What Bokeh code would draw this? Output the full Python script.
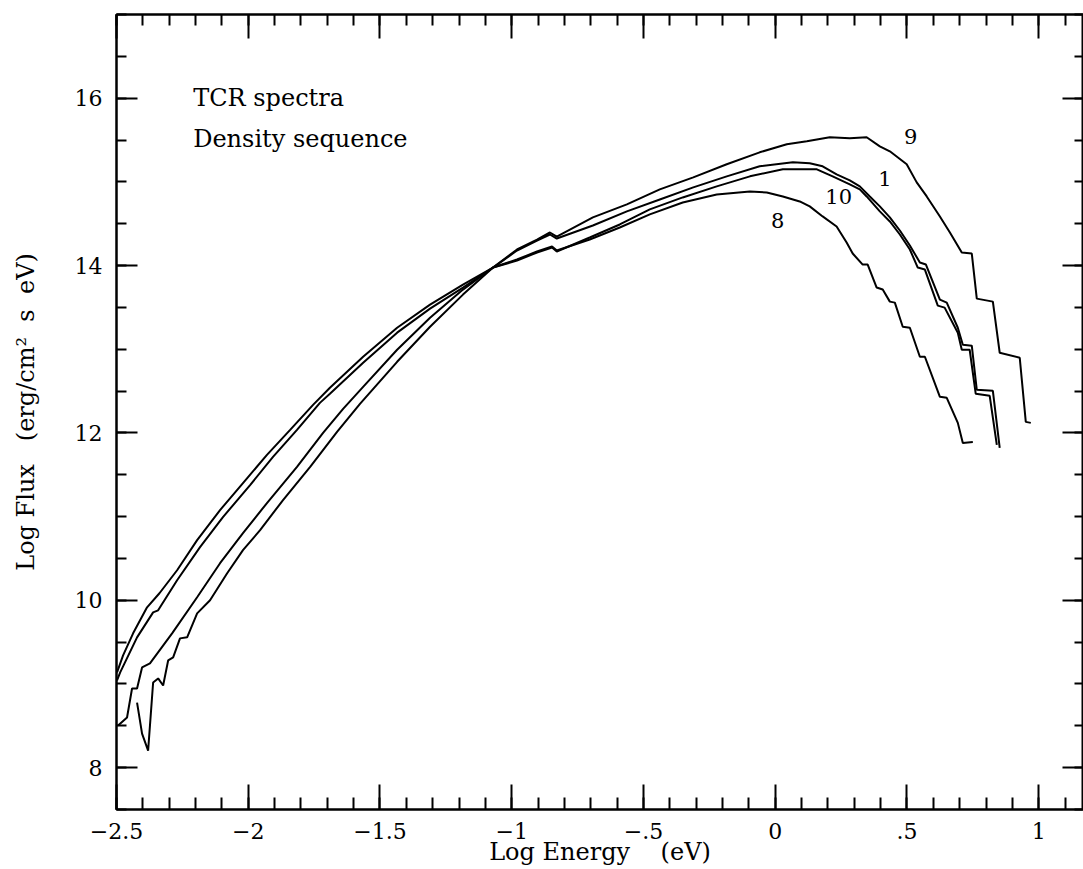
from bokeh.plotting import figure
from bokeh.models import LinearAxis, SingleIntervalTicker, Range1d
from bokeh.core.properties import value
from bokeh.embed import file_html
from bokeh.resources import INLINE

# ---- data (Log Energy [eV], Log Flux [erg/cm^2 s eV]) ----
x_c8 = [-2.498, -2.475, -2.437, -2.384, -2.337, -2.270, -2.194, -2.107, -2.020, -1.929,
        -1.841, -1.754, -1.690, -1.564, -1.435, -1.310, -1.185, -1.071, -0.980, -0.904,
        -0.847, -0.829, -0.704, -0.590, -0.476, -0.351, -0.222, -0.096, -0.032, 0.029,
        0.093, 0.131, 0.180, 0.233, 0.271, 0.294, 0.332, 0.351, 0.385, 0.408,
        0.435, 0.454, 0.484, 0.511, 0.549, 0.568, 0.625, 0.651, 0.693, 0.712, 0.750]
y_c8 = [9.138, 9.341, 9.605, 9.916, 10.084, 10.359, 10.719, 11.078, 11.401, 11.737,
        12.036, 12.335, 12.539, 12.910, 13.257, 13.533, 13.772, 13.976, 14.072, 14.168,
        14.228, 14.180, 14.311, 14.455, 14.611, 14.754, 14.850, 14.886, 14.874, 14.826,
        14.766, 14.707, 14.587, 14.467, 14.275, 14.144, 14.012, 14.012, 13.737, 13.713,
        13.569, 13.557, 13.269, 13.257, 12.910, 12.910, 12.431, 12.419, 12.120, 11.880, 11.892]

x_c10 = [-2.498, -2.486, -2.422, -2.361, -2.342, -2.270, -2.183, -2.096, -1.993, -1.906,
         -1.815, -1.728, -1.690, -1.564, -1.435, -1.310, -1.185, -1.071, -0.980, -0.904,
         -0.847, -0.829, -0.704, -0.590, -0.476, -0.351, -0.222, -0.096, 0.029, 0.158,
         0.218, 0.283, 0.321, 0.347, 0.397, 0.435, 0.473, 0.511, 0.541, 0.568,
         0.617, 0.643, 0.693, 0.708, 0.738, 0.761, 0.814, 0.841]
y_c10 = [9.042, 9.138, 9.557, 9.856, 9.880, 10.240, 10.635, 10.994, 11.377, 11.713,
         12.036, 12.359, 12.467, 12.838, 13.198, 13.485, 13.737, 13.976, 14.060, 14.156,
         14.216, 14.168, 14.335, 14.491, 14.671, 14.814, 14.946, 15.066, 15.150, 15.150,
         15.066, 14.970, 14.910, 14.826, 14.647, 14.527, 14.371, 14.192, 13.976, 13.952,
         13.521, 13.497, 13.198, 12.994, 12.994, 12.467, 12.443, 11.856]

x_c1 = [-2.494, -2.460, -2.441, -2.422, -2.403, -2.373, -2.289, -2.194, -2.107, -2.020,
        -1.929, -1.815, -1.716, -1.640, -1.564, -1.435, -1.310, -1.185, -1.071, -0.980,
        -0.904, -0.855, -0.829, -0.692, -0.563, -0.438, -0.311, -0.184, -0.059, 0.067,
        0.131, 0.180, 0.233, 0.283, 0.321, 0.359, 0.397, 0.435, 0.473, 0.511,
        0.549, 0.572, 0.625, 0.651, 0.693, 0.712, 0.746, 0.765, 0.826, 0.852]
y_c1 = [8.503, 8.599, 8.946, 8.946, 9.198, 9.246, 9.605, 10.036, 10.443, 10.802,
        11.162, 11.593, 12.000, 12.287, 12.551, 12.994, 13.377, 13.713, 13.976, 14.180,
        14.299, 14.371, 14.323, 14.479, 14.647, 14.790, 14.934, 15.066, 15.186, 15.234,
        15.222, 15.186, 15.090, 15.018, 14.946, 14.826, 14.707, 14.575, 14.419, 14.240,
        14.036, 14.012, 13.593, 13.557, 13.257, 13.054, 13.042, 12.515, 12.503, 11.820]

x_c9 = [-2.422, -2.403, -2.380, -2.361, -2.342, -2.323, -2.304, -2.285, -2.259, -2.232,
        -2.194, -2.145, -2.080, -2.020, -1.955, -1.868, -1.765, -1.663, -1.576, -1.435,
        -1.310, -1.185, -1.071, -0.980, -0.904, -0.855, -0.829, -0.692, -0.563, -0.438,
        -0.311, -0.184, -0.059, 0.044, 0.120, 0.207, 0.283, 0.347, 0.397, 0.435,
        0.499, 0.537, 0.575, 0.625, 0.663, 0.708, 0.746, 0.765, 0.826, 0.852,
        0.928, 0.951, 0.970]
y_c9 = [8.778, 8.407, 8.204, 9.018, 9.066, 8.982, 9.281, 9.317, 9.545, 9.557,
        9.844, 10.000, 10.323, 10.599, 10.838, 11.198, 11.593, 12.012, 12.347, 12.850,
        13.269, 13.653, 13.976, 14.192, 14.311, 14.395, 14.347, 14.575, 14.731, 14.910,
        15.054, 15.210, 15.353, 15.449, 15.485, 15.533, 15.521, 15.533, 15.425, 15.365,
        15.210, 14.994, 14.826, 14.587, 14.395, 14.156, 14.144, 13.605, 13.569, 12.958,
        12.898, 12.132, 12.120]

curve_names = ["9", "1", "10", "8"]
curve_label_x = [0.514, 0.416, 0.241, 0.009]
curve_label_y = [15.545, 15.042, 14.826, 14.539]

note_text = ["TCR spectra", "Density sequence"]
note_x = [-2.209, -2.209]
note_y = [16.0, 15.51]

x_tick_labels = {-2.5: "\u22122.5", -2.0: "\u22122", -1.5: "\u22121.5", -1.0: "\u22121",
                 -0.5: "\u2212.5", 0.0: "0", 0.5: ".5", 1.0: "1"}
y_tick_labels = {8: "8", 10: "10", 12: "12", 14: "14", 16: "16"}

NB = "\u00a0"
x_title = "Log Energy" + NB * 4 + "(eV)"
y_title = "Log Flux" + NB * 3 + "(erg/cm\u00b2" + NB * 2 + "s" + NB * 2 + "eV)"

FONT = "DejaVu Serif"

p = figure(width=1083, height=869, x_range=Range1d(-2.5, 1.17), y_range=Range1d(7.5, 17.0),
           output_backend="svg", toolbar_location=None,
           min_border_left=116, min_border_right=0, min_border_top=14, min_border_bottom=60)
p.grid.visible = False
p.outline_line_color = "black"
p.outline_line_width = 2
p.background_fill_color = "white"
p.border_fill_color = "white"

for xs, ys in [(x_c8, y_c8), (x_c10, y_c10), (x_c1, y_c1), (x_c9, y_c9)]:
    p.line(xs, ys, line_color="black", line_width=2)

p.text(x=note_x, y=note_y, text=note_text, text_font=value(FONT), text_font_size="24px",
       text_align="left", text_baseline="middle", text_color="black")
p.text(x=curve_label_x, y=curve_label_y, text=curve_names, text_font=value(FONT),
       text_font_size="21px", text_align="center", text_baseline="middle", text_color="black")

def style_axis(ax, interval, nminor, tin, tmin):
    ax.ticker = SingleIntervalTicker(interval=interval, num_minor_ticks=nminor)
    ax.major_tick_in = tin
    ax.major_tick_out = 0
    ax.minor_tick_in = tmin
    ax.minor_tick_out = 0
    ax.axis_line_color = "black"
    ax.axis_line_width = 2
    ax.major_tick_line_color = "black"
    ax.major_tick_line_width = 2
    ax.minor_tick_line_color = "black"
    ax.minor_tick_line_width = 2

xa = p.xaxis[0]
style_axis(xa, 0.5, 5, 25, 12)
xa.major_label_overrides = x_tick_labels
xa.major_label_text_font = FONT
xa.major_label_text_font_size = "22px"
xa.major_label_text_color = "black"
xa.major_label_standoff = 13
xa.axis_label = x_title
xa.axis_label_text_font = FONT
xa.axis_label_text_font_size = "24px"
xa.axis_label_text_font_style = "normal"
xa.axis_label_text_color = "black"
xa.axis_label_standoff = -4

ya = p.yaxis[0]
style_axis(ya, 2, 4, 21, 10)
ya.major_label_overrides = y_tick_labels
ya.major_label_text_font = FONT
ya.major_label_text_font_size = "22px"
ya.major_label_text_color = "black"
ya.major_label_standoff = 14
ya.axis_label = y_title
ya.axis_label_text_font = FONT
ya.axis_label_text_font_size = "24px"
ya.axis_label_text_font_style = "normal"
ya.axis_label_text_color = "black"
ya.axis_label_standoff = 32

top = LinearAxis()
style_axis(top, 0.5, 5, 24, 11)
top.major_label_text_color = None
top.major_label_standoff = 0
p.add_layout(top, "above")

right = LinearAxis()
style_axis(right, 2, 4, 21, 9)
right.major_label_text_color = None
right.major_label_standoff = 0
p.add_layout(right, "right")

open("out.html", "w").write(file_html(p, INLINE))
